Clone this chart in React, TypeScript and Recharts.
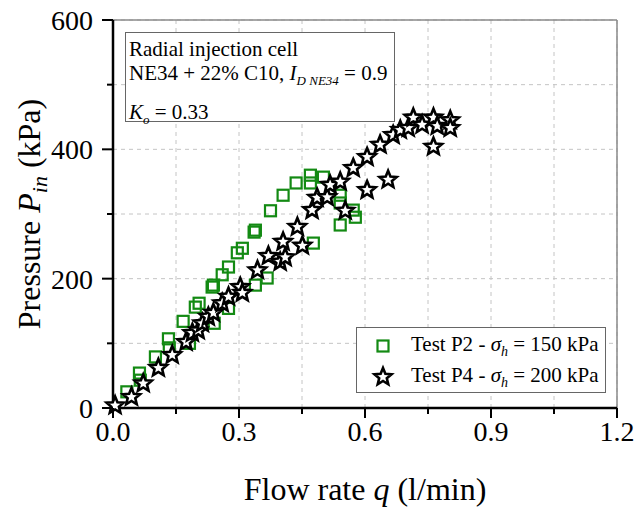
import { ScatterChart, Scatter, XAxis, YAxis, CartesianGrid, ReferenceLine } from "recharts";

// Test P2 - sigma_h = 150 kPa (green squares)
const p2Flow = [
  0.033, 0.063, 0.065, 0.101, 0.132, 0.134, 0.167, 0.182, 0.196, 0.205, 0.236, 0.239, 0.241,
  0.26, 0.275, 0.275, 0.296, 0.308, 0.336, 0.339, 0.339, 0.367, 0.375, 0.405, 0.436, 0.47,
  0.47, 0.477, 0.501, 0.541, 0.541, 0.541, 0.572, 0.577,
];
const p2Pressure = [
  25, 54, 43, 79, 107, 93, 134, 100, 156, 162, 187, 190, 131,
  206, 218, 154, 240, 247, 272, 275, 190, 201, 305, 329, 348, 360,
  348, 255, 357, 329, 317, 283, 306, 295,
];

// Test P4 - sigma_h = 200 kPa (black stars)
const p4Flow = [
  0.005, 0.044, 0.072, 0.108, 0.141, 0.174, 0.189, 0.203, 0.213, 0.227, 0.239, 0.26, 0.275,
  0.303, 0.308, 0.344, 0.37, 0.398, 0.405, 0.41, 0.439, 0.451, 0.474, 0.486, 0.51, 0.517,
  0.541, 0.553, 0.572, 0.605, 0.605, 0.636, 0.655, 0.667, 0.684, 0.703, 0.715, 0.736,
  0.763, 0.772, 0.803, 0.803, 0.763,
];
const p4Pressure = [
  4, 17, 38, 62, 82, 102, 116, 120, 131, 141, 147, 162, 172,
  187, 178, 213, 235, 226, 257, 233, 280, 251, 306, 325, 326, 345,
  350, 305, 371, 388, 337, 407, 353, 422, 430, 433, 449, 438,
  449, 436, 445, 433, 404,
];

const xTicks = [0, 0.15, 0.3, 0.45, 0.6, 0.75, 0.9, 1.05, 1.2];
const yTicks = [0, 100, 200, 300, 400, 500, 600];
const seriesNames = ["Test P2", "Test P4"];
const seriesStress = [150, 200];

const GREEN = "#138a13";
const FONT = "'Liberation Serif', 'Times New Roman', serif";

const p2Data = p2Flow.map((q, i) => ({ q, p: p2Pressure[i] }));
const p4Data = p4Flow.map((q, i) => ({ q, p: p4Pressure[i] }));

const starPoints = (cx: number, cy: number, R: number, r: number) => {
  const pts: string[] = [];
  for (let i = 0; i < 10; i++) {
    const rad = i % 2 === 0 ? R : r;
    const a = -Math.PI / 2 + (i * Math.PI) / 5;
    pts.push(`${cx + rad * Math.cos(a)},${cy + rad * Math.sin(a)}`);
  }
  return pts.join(" ");
};

const SquareMark = (props: any) => {
  const { cx, cy } = props;
  return (
    <rect x={cx - 5.5} y={cy - 5.5} width={11} height={11} fill="none" stroke={GREEN} strokeWidth={2.2} />
  );
};

const StarMark = (props: any) => {
  const { cx, cy } = props;
  return (
    <polygon
      points={starPoints(cx, cy, 9, 4)}
      fill="#fff"
      stroke="#000"
      strokeWidth={2.6}
      strokeLinejoin="miter"
    />
  );
};

const XTick = (props: any) => {
  const { x, y, payload } = props;
  const major = Math.round(payload.value * 100) % 30 === 0;
  return (
    <g>
      <line x1={x} y1={y} x2={x} y2={y + (major ? 10 : 6)} stroke="#000" strokeWidth={2} />
      {major && (
        <text x={x} y={y + 33} textAnchor="middle" fontFamily={FONT} fontSize={28} fill="#000">
          {payload.value.toFixed(1)}
        </text>
      )}
    </g>
  );
};

const YTick = (props: any) => {
  const { x, y, payload } = props;
  const major = payload.value % 200 === 0;
  return (
    <g>
      <line x1={x} y1={y} x2={x - (major ? 11 : 6)} y2={y} stroke="#000" strokeWidth={2} />
      {major && (
        <text x={x - 20} y={y + 10} textAnchor="end" fontFamily={FONT} fontSize={28} fill="#000">
          {payload.value}
        </text>
      )}
    </g>
  );
};

const XTitle = () => (
  <text x={365} y={500} textAnchor="middle" fontFamily={FONT} fontSize={32} fill="#000">
    Flow rate <tspan fontStyle="italic">q</tspan> (l/min)
  </text>
);

const YTitle = () => (
  <text
    x={0}
    y={0}
    transform="translate(40, 214) rotate(-90)"
    textAnchor="middle"
    fontFamily={FONT}
    fontSize={32}
    fill="#000"
  >
    Pressure <tspan fontStyle="italic">P</tspan>
    <tspan fontStyle="italic" fontSize={22} dy={7}>in</tspan>
    <tspan dy={-7}> (kPa)</tspan>
  </text>
);

const sub = { fontStyle: "italic", fontSize: 13, verticalAlign: "-0.35em" } as const;

export default function App() {
  return (
    <div style={{ position: "absolute", left: 0, top: 0, width: 640, height: 508, background: "#fff" }}>
      <ScatterChart width={640} height={508} margin={{ top: 20, right: 23, bottom: 0, left: 0 }}>
        <CartesianGrid stroke="#c4c4c4" strokeDasharray="4 4" />
        <XAxis
          type="number"
          dataKey="q"
          domain={[0, 1.2]}
          ticks={xTicks}
          interval={0}
          height={100}
          tickSize={0}
          tickMargin={0}
          tick={XTick}
          axisLine={{ stroke: "#000", strokeWidth: 2.5 }}
          label={{ content: XTitle }}
        />
        <YAxis
          type="number"
          dataKey="p"
          domain={[0, 600]}
          ticks={yTicks}
          interval={0}
          width={113}
          tickSize={0}
          tickMargin={0}
          tick={YTick}
          axisLine={{ stroke: "#000", strokeWidth: 2.5 }}
          label={{ content: YTitle }}
        />
        <ReferenceLine x={1.2} stroke="#8a8a8a" strokeWidth={1.5} />
        <ReferenceLine y={600} stroke="#8a8a8a" strokeWidth={1.5} />
        <Scatter
          name={seriesNames[0]}
          data={p2Data}
          shape={SquareMark}
          isAnimationActive={false}
        />
        <Scatter
          name={seriesNames[1]}
          data={p4Data}
          shape={StarMark}
          isAnimationActive={false}
        />
      </ScatterChart>

      <div
        style={{
          position: "absolute",
          left: 125,
          top: 32,
          width: 270,
          height: 90,
          border: "1px solid #666",
          background: "#fff",
          fontFamily: FONT,
          fontSize: 21,
          color: "#000",
          lineHeight: "24px",
          padding: "4px 0 0 3px",
          boxSizing: "border-box",
          whiteSpace: "nowrap",
        }}
      >
        <div>Radial injection cell</div>
        <div>
          NE34 + 22% C10, <i>I</i>
          <span style={sub}>D NE34</span> = 0.9
        </div>
        <div style={{ marginTop: 7 }}>
          <i>K</i>
          <span style={sub}>o</span> = 0.33
        </div>
      </div>

      <div
        style={{
          position: "absolute",
          left: 356,
          top: 327,
          width: 250,
          height: 66,
          border: "1px solid #666",
          background: "#fff",
          fontFamily: FONT,
          fontSize: 21,
          color: "#000",
          boxSizing: "border-box",
        }}
      >
        {seriesNames.map((name, i) => (
          <div
            key={name}
            style={{ position: "absolute", left: 0, top: 5 + i * 31, height: 26, display: "flex", alignItems: "center", whiteSpace: "nowrap" }}
          >
            <svg width={52} height={26} style={{ display: "block" }}>
              {i === 0 ? <SquareMark cx={26} cy={13} /> : <StarMark cx={26} cy={13} />}
            </svg>
            <span style={{ marginLeft: 2 }}>
              {name} - <i>σ</i>
              <span style={{ fontStyle: "italic", fontSize: 14, verticalAlign: "-0.35em" }}>h</span> = {seriesStress[i]} kPa
            </span>
          </div>
        ))}
      </div>
    </div>
  );
}
